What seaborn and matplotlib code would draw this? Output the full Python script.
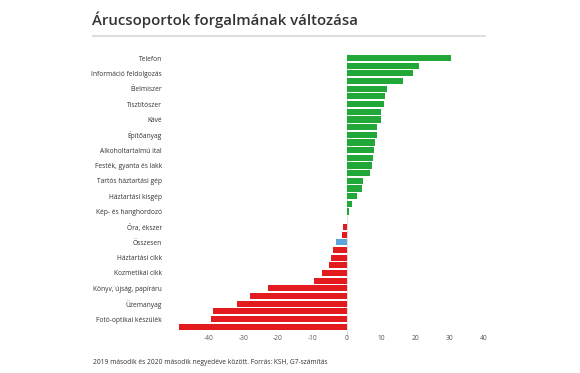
import numpy as np
import pandas as pd
import matplotlib
matplotlib.use("Agg")
import matplotlib.pyplot as plt
import seaborn as sns

# ---- data ----
labels = ["Telefon", "Információ feldolgozás", "Élelmiszer", "Tisztítószer", "Kávé",
          "Építőanyag", "Alkoholtartalmú ital", "Festék, gyanta és lakk",
          "Tartós háztartási gép", "Háztartási kisgép", "Kép- és hanghordozó",
          "Óra, ékszer", "Összesen", "Háztartási cikk", "Kozmetikai cikk",
          "Könyv, újság, papíráru", "Üzemanyag", "Fotó-optikai készülék"]
values = [30.5, 21.0, 19.3, 16.5, 11.9, 11.3, 10.9, 10.0, 10.0, 9.0,
          8.9, 8.4, 8.1, 7.8, 7.5, 6.9, 4.9, 4.5, 3.1, 1.5,
          0.7, 0.2, -0.9, -1.3, -3.2, -3.8, -4.6, -5.0, -7.0, -9.5,
          -22.7, -28.1, -31.8, -38.8, -39.5, -48.6]
total_label = "Összesen"
xticks = [-40, -30, -20, -10, 0, 10, 20, 30, 40]

title = "Árucsoportok forgalmának változása"
footer = "2019 második és 2020 második negyedéve között. Forrás: KSH, G7-számítás"

GREEN, RED, BLUE = "#22a838", "#e31b1f", "#5ea6da"

# label every other bar
tick_pos = list(range(0, len(values), 2))
total_idx = tick_pos[labels.index(total_label)]

df = pd.DataFrame({"pos": np.arange(len(values)), "value": values})
pal = {}
for i, v in enumerate(values):
    if i == total_idx:
        pal[i] = BLUE
    elif v < 0:
        pal[i] = RED
    else:
        pal[i] = GREEN

sns.set_theme(style="white")
plt.rcParams["font.family"] = ["Open Sans", "DejaVu Sans"]

fig = plt.figure(figsize=(5.8, 3.73), dpi=100)
ax = fig.add_axes([0.3009, 0.1139, 0.5397, 0.7408])

sns.barplot(data=df, x="value", y="pos", hue="pos", palette=pal, orient="h",
            width=0.8, legend=False, ax=ax, edgecolor="none", linewidth=0,
            saturation=1)

ax.axvline(0, color="#d9d9d9", lw=0.6, zorder=0, ymin=-0.03, clip_on=False)
ax.set_xlim(-50, 41)
ax.set_ylim(len(values) - 0.5, -0.5)
ax.set_yticks(tick_pos)
ax.set_yticklabels(labels, fontsize=4.8, color="#333333")
ax.set_xticks(xticks)
ax.set_xticklabels([str(t) for t in xticks], fontsize=4.8, color="#555555")
ax.tick_params(axis="both", length=0, pad=3)
ax.tick_params(axis="y", pad=9)
ax.set_xlabel("")
ax.set_ylabel("")
for s in ax.spines.values():
    s.set_visible(False)

fig.text(92 / 580, 1 - 20 / 373, title, fontsize=10.8, color="#333333",
         fontweight="semibold", ha="left", va="center")
fig.add_artist(plt.Line2D([93 / 580, 485 / 580], [1 - 35.5 / 373, 1 - 35.5 / 373],
                          color="#dddddd", lw=1.5))
fig.text(93 / 580, 1 - 363 / 373, footer, fontsize=4.8, color="#333333",
         ha="left", va="center")

fig.savefig("out.png", dpi=100)
